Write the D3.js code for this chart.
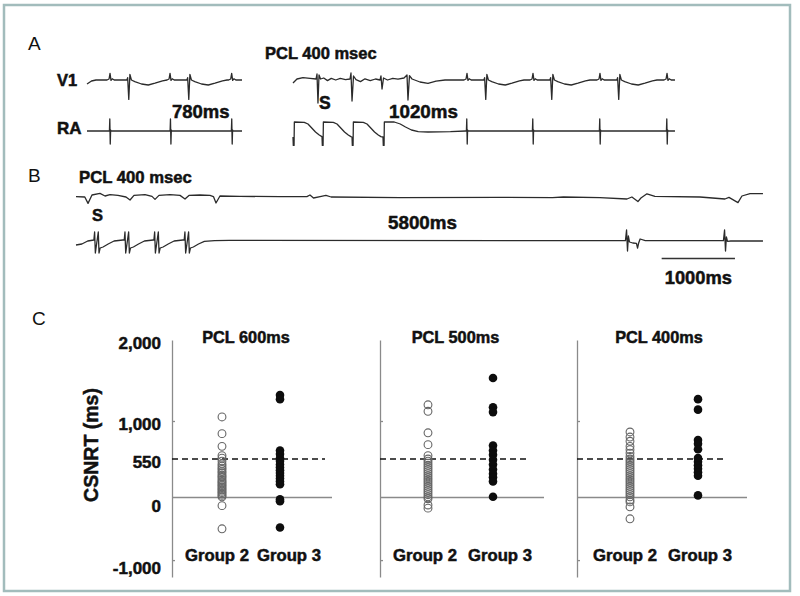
<!DOCTYPE html>
<html>
<head>
<meta charset="utf-8">
<script src="https://cdnjs.cloudflare.com/ajax/libs/d3/7.8.5/d3.min.js"></script>
<style>
  body { margin: 0; background: #fff; }
  svg text { font-family: "Liberation Sans", Arial, sans-serif; fill: #111; }
  svg text.bold { font-weight: bold; stroke: #111; stroke-width: 0.5px; }
</style>
</head>
<body>
<svg id="fig" width="800" height="596"></svg>
<script>
// ---- panel C data (CSNRT, ms) ----
var groups = ["Group 2", "Group 3"];
var panelTitles = ["PCL 600ms", "PCL 500ms", "PCL 400ms"];
var yTicks = [2000, 1000, 550, 0, -1000];

var g2_600 = [1050, 850, 700, 590, 560, 520, 480, 450, 420, 400, 370, 350, 320, 300, 280, 250, 230, 210, 190, 170, 150, 130, 110, 90, 70, 50, 30, 10, -130, -500];
var g3_600 = [1320, 1270, 650, 610, 560, 520, 470, 430, 390, 350, 310, 270, 230, 190, -30, -60, -480];
var g2_500 = [1200, 1120, 860, 720, 590, 550, 520, 490, 460, 430, 400, 370, 340, 310, 280, 250, 220, 190, 160, 130, 100, 70, 40, 10, -20, -120, -170];
var g3_500 = [1530, 1170, 1110, 710, 650, 600, 540, 470, 400, 340, 290, 230, 10];
var g2_400 = [870, 810, 760, 700, 660, 620, 580, 550, 520, 490, 460, 430, 400, 370, 340, 310, 280, 250, 220, 190, 160, 130, 100, 70, 40, 10, -40, -70, -150, -340];
var g3_400 = [1270, 1140, 775, 730, 665, 560, 510, 460, 410, 360, 310, 30];

var seriesByPanel = [[g2_600, g3_600], [g2_500, g3_500], [g2_400, g3_400]];

// ---- tracing shapes: [ms, mV] relative to event time ----
var shapes = {
  vStart: [[0, -0.2], [60, -0.05], [120, 0]],
  vSinus: [[-40, 0], [-13, 0.05], [0, 0.33], [13, -0.02], [30, 0.06], [55, 0], [225, 0], [235, 0.12], [250, -0.97], [265, 0.28], [285, 0], [330, -0.08], [420, -0.2], [510, -0.25], [600, -0.16], [700, -0.04], [760, 0]],
  vPaced: [[0, -0.15], [53, 0.05], [133, 0.12], [227, 0.08], [307, 0.05], [320, 0.3], [333, -1.15], [347, 0.25], [367, 0.05], [410, 0.1], [460, -0.03], [510, 0.08], [570, 0], [630, 0.08], [700, 0.02], [760, 0.05], [773, 0.35], [787, -1.05], [807, 0.2], [840, 0.02], [900, -0.08], [960, 0.06], [1030, -0.03], [1100, 0.05], [1160, 0.0], [1173, 0.2], [1187, -0.45], [1207, 0.1], [1260, 0], [1330, 0.08], [1400, 0.04], [1480, 0.1], [1520, 0.25], [1533, -1.0], [1553, 0.22], [1587, 0.05], [1693, -0.1], [1800, -0.17], [1907, -0.06], [2027, 0]],
  raSpike: [[-8, 0], [-3, 0.6], [3, -0.65], [8, 0.05], [14, 0]],
  raPace: [[0, -0.3], [4, -0.72], [14, -0.72], [18, 0.45], [150, 0.43], [200, 0.35], [250, 0.15], [300, -0.05], [350, -0.2], [385, -0.28]],
  raPaceLast: [[0, -0.3], [4, -0.72], [14, -0.72], [18, 0.45], [150, 0.45], [230, 0.35], [300, 0.2], [380, 0.05], [470, -0.03], [600, -0.05], [900, -0.03], [1100, 0]],
  bSurf: [[0, 0.02], [120, 0], [164, -0.32], [218, 0.1], [327, 0.18], [396, 0.05], [464, 0.12], [573, 0.08], [682, 0], [737, -0.15], [791, 0.08], [941, 0.12], [1037, 0.03], [1078, -0.12], [1132, 0.08], [1282, 0.12], [1419, 0.08], [1487, -0.1], [1541, 0.08], [1691, 0.1], [1828, 0.08], [1875, 0.02], [1910, -0.3], [1964, 0.05], [2237, 0.03], [2783, 0.02], [3150, 0.02], [3192, 0.1], [3240, -0.05], [3330, 0.02], [3410, 0.08], [3480, 0], [4419, -0.03], [5783, -0.02], [6500, -0.03], [6650, 0], [7147, -0.03], [7516, -0.1], [7584, 0], [7666, -0.23], [7707, -0.05], [7789, 0.16], [7898, 0.03], [8512, 0], [8853, -0.1], [8908, -0.02], [9031, -0.28], [9085, 0.05], [9195, 0.17], [9372, 0.17]],
  bStart: [[0, -0.2], [80, -0.15], [160, 0]],
  bPace: [[-15, 0.05], [-5, 0.45], [5, -0.6], [45, 0.45], [55, -0.6], [70, -0.35], [110, -0.3], [180, -0.15], [260, 0], [380, 0.05]],
  bPaceLast: [[-15, 0.05], [-5, 0.45], [5, -0.6], [45, 0.45], [55, -0.6], [70, -0.35], [110, -0.3], [180, -0.15], [260, -0.02], [400, 0.02], [600, 0.03]],
  bSpike1: [[-20, 0.02], [-5, 0.55], [8, -0.5], [20, 0.25], [35, -0.05], [80, -0.1], [130, -0.12], [145, -0.35], [160, -0.1], [180, 0.1], [250, 0.02]],
  bSpike2: [[-20, 0.02], [-5, 0.55], [8, -0.5], [20, 0.2], [35, -0.02], [80, 0]]
};

// event lists: [shape, time ms]
var aV1Left = [["vStart", 0], ["vSinus", 307], ["vSinus", 1107], ["vSinus", 1929]];
var aRaLeft = [["raSpike", 307], ["raSpike", 1116], ["raSpike", 1933]];
var aV1Right = [["vPaced", 0], ["vSinus", 2320], ["vSinus", 3200], ["vSinus", 4093], ["vSinus", 4987]];
var aRaRight = [["raPace", 0], ["raPace", 387], ["raPace", 787], ["raPaceLast", 1200], ["raSpike", 2320], ["raSpike", 3200], ["raSpike", 4093], ["raSpike", 4987]];
var bSurface = [["bSurf", 0]];
var bRa = [["bStart", 0], ["bPace", 259], ["bPace", 673], ["bPace", 1078], ["bPaceLast", 1491], ["bSpike1", 7516], ["bSpike2", 8853]];
var scaleBarStart = 7990;

var svg = d3.select("#fig");

// frame
svg.append("rect")
  .attr("x", 4).attr("y", 5).attr("width", 786).attr("height", 586)
  .attr("fill", "#fff").attr("stroke", "#a2bcbc").attr("stroke-width", 2.5);

function buildTrace(events, end) {
  var pts = [];
  events.forEach(function (e) {
    shapes[e[0]].forEach(function (p) { pts.push([e[1] + p[0], p[1]]); });
  });
  if (pts[0][0] > 0) pts.unshift([0, 0]);
  pts = pts.filter(function (p) { return p[0] <= end; });
  pts.push([end, pts[pts.length - 1][1]]);
  return pts;
}

function drawTrace(events, end, x0, y0, pxPerSec) {
  var x = d3.scaleLinear().domain([0, 1000]).range([x0, x0 + pxPerSec]);
  var y = d3.scaleLinear().domain([-1, 1]).range([y0 + 20, y0 - 20]);
  var line = d3.line().x(function (d) { return x(d[0]); }).y(function (d) { return y(d[1]); });
  svg.append("path")
    .attr("d", line(buildTrace(events, end)))
    .attr("fill", "none")
    .attr("stroke", "#2b2b2b")
    .attr("stroke-width", 1.3)
    .attr("stroke-linejoin", "round");
  return x;
}

function label(txt, x, y, size, bold, anchor) {
  return svg.append("text")
    .attr("class", bold ? "bold" : null)
    .attr("x", x).attr("y", y)
    .attr("font-size", size)
    .attr("text-anchor", anchor || "start")
    .text(txt);
}

// ---- panel A ----
label("A", 28, 50, 19, false);
label("PCL 400 msec", 265, 59, 16.5, true);
label("V1", 57, 86, 16.5, true);
label("RA", 57, 134, 17, true);
label("780ms", 172, 118, 18.5, true);
label("S", 319, 108.5, 17.5, true);
label("1020ms", 389, 118, 18.8, true);

drawTrace(aV1Left, 2067, 87, 80, 75);
drawTrace(aRaLeft, 2067, 87, 131, 75);
drawTrace(aV1Right, 5093, 293, 80, 75);
drawTrace(aRaRight, 5093, 293, 131, 75);

// ---- panel B ----
label("B", 28, 182, 19, false);
label("PCL 400 msec", 79, 182.5, 16.7, true);
label("S", 92, 221, 16.5, true);
label("5800ms", 388, 228.5, 18.8, true);

drawTrace(bSurface, 9372, 76, 197, 73.3);
var xB = drawTrace(bRa, 9372, 76, 241, 73.3);

svg.append("line")
  .attr("x1", xB(scaleBarStart)).attr("x2", xB(scaleBarStart + 1000))
  .attr("y1", 258.5).attr("y2", 258.5)
  .attr("stroke", "#333").attr("stroke-width", 1.3);
label("1000ms", (xB(scaleBarStart) + xB(scaleBarStart + 1000)) / 2, 283.5, 18.3, true, "middle");

// ---- panel C ----
label("C", 32, 325, 19, false);
svg.append("text")
  .attr("class", "bold")
  .attr("transform", "translate(98,445) rotate(-90)")
  .attr("text-anchor", "middle")
  .attr("font-size", 19.5)
  .text("CSNRT (ms)");

var y = d3.scaleLinear()
  .domain([-1270, 0, 550, 1000, 2000])
  .range([577, 497.5, 459, 421, 340]);

var fmt = d3.format(",");
yTicks.forEach(function (v) {
  label(fmt(v).replace("\u2212", "-"), 161, y(v) + (v > 0 ? 9 : 14), 17, true, "end");
});

var panelLayout = [
  { axis: 172, g2: 222, g3: 280, lab2: 217, lab3: 289, zeroEnd: 332, dashEnd: 325 },
  { axis: 380, g2: 428, g3: 493, lab2: 425, lab3: 500, zeroEnd: 544, dashEnd: 530 },
  { axis: 577, g2: 630, g3: 698, lab2: 625, lab3: 700, zeroEnd: 747, dashEnd: 727 }
];

panelLayout.forEach(function (L, i) {
  var g = svg.append("g");
  var x = d3.scalePoint().domain(groups).range([L.g2, L.g3]);

  var ax = g.append("g")
    .attr("transform", "translate(" + L.axis + ",0)")
    .call(d3.axisRight(y).tickValues([-1000, 1000]).tickSize(3).tickSizeOuter(0).tickFormat(""));
  ax.selectAll("path, line").attr("stroke", "#8a8a8a").attr("stroke-width", 1.3);

  g.append("line")
    .attr("x1", L.axis).attr("x2", L.zeroEnd)
    .attr("y1", y(0)).attr("y2", y(0))
    .attr("stroke", "#8a8a8a").attr("stroke-width", 1.6);

  g.append("line")
    .attr("x1", L.axis).attr("x2", L.dashEnd)
    .attr("y1", y(550)).attr("y2", y(550))
    .attr("stroke", "#111").attr("stroke-width", 1.5)
    .attr("stroke-dasharray", "6,4");

  g.append("text")
    .attr("class", "bold")
    .attr("x", (L.g2 + L.g3) / 2 - 5).attr("y", 343)
    .attr("text-anchor", "middle")
    .attr("font-size", 16.3)
    .text(panelTitles[i]);

  [L.lab2, L.lab3].forEach(function (lx, j) {
    g.append("text")
      .attr("class", "bold")
      .attr("x", lx).attr("y", 561)
      .attr("text-anchor", "middle")
      .attr("font-size", 16.7)
      .text(groups[j]);
  });

  g.selectAll(".open")
    .data(seriesByPanel[i][0])
    .enter().append("circle")
    .attr("cx", x("Group 2"))
    .attr("cy", function (d) { return y(d); })
    .attr("r", 3.9)
    .attr("fill", "none")
    .attr("stroke", "#666")
    .attr("stroke-width", 1.1);

  g.selectAll(".filled")
    .data(seriesByPanel[i][1])
    .enter().append("circle")
    .attr("cx", x("Group 3"))
    .attr("cy", function (d) { return y(d); })
    .attr("r", 4.3)
    .attr("fill", "#0d0d0d");
});
</script>
</body>
</html>
